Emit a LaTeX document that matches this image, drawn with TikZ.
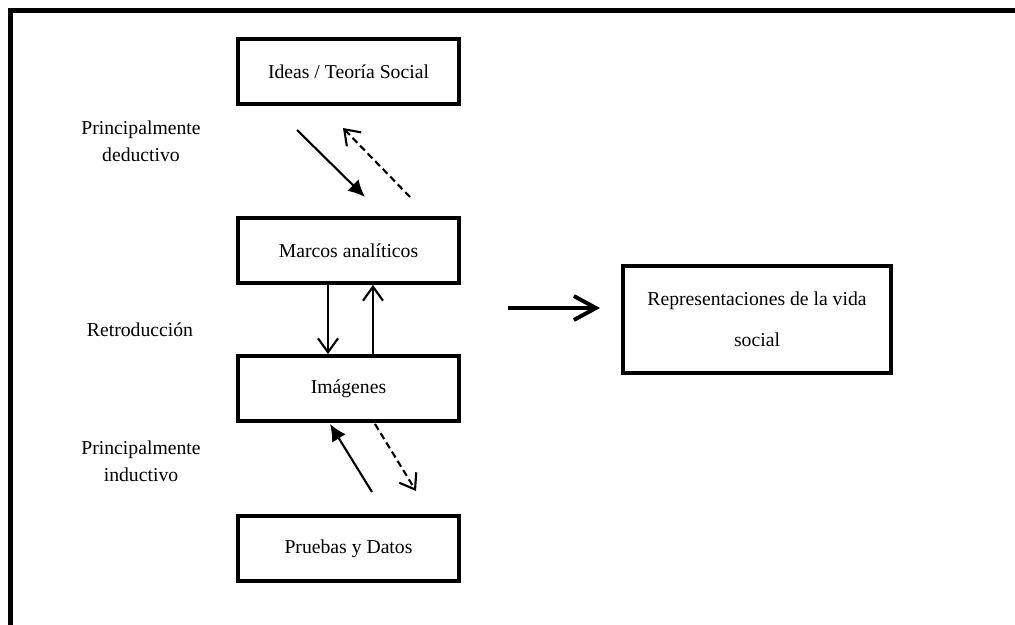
\documentclass[tikz,border=0pt]{standalone}
\usepackage{fontspec}
\setmainfont{Liberation Serif}
\usepackage{tikz}
\usetikzlibrary{arrows.meta}

\begin{document}
\begin{tikzpicture}[x=0.025cm, y=-0.025cm,
	caja/.style={draw, line width=2.8pt, minimum width=5.525cm, minimum height=1.62cm, font=\fontsize{14}{17}\selectfont},
	etiqueta/.style={align=center, font=\fontsize{14}{19}\selectfont},
	llena/.style={line width=1.5pt, -{Latex[length=0.42cm, width=0.4cm]}},
	abierta/.style={line width=1.5pt, -{Straight Barb[length=0.35cm, width=0.5cm]}},
	rayas/.style={dash pattern=on 0.17cm off 0.1cm}]
	%\draw[help lines, thick] (0,0) grid[step=50] (1015,625);
	\useasboundingbox (0,0) rectangle (1015,625);
	\draw[line width=3.5pt] (10.5,625)--(10.5,10.5)--(1015,10.5);
	\node[caja] (ideas) at (348.5,71.5) {Ideas / Teoría Social};
	\node[caja] (marcos) at (348.5,250.5) {Marcos analíticos};
	\node[caja] (imagenes) at (348.5,388.5) {Imágenes};
	\node[caja] (pruebas) at (348.5,548.5) {Pruebas y Datos};
	\node[caja, minimum width=6.7cm, minimum height=2.675cm, align=center, font=\fontsize{14}{29}\selectfont] (repr) at (757,319.5) {Representaciones de la vida\\social};
	\node[etiqueta] (deduc) at (141,141) {Principalmente\\deductivo};
	\node[etiqueta] (retro) at (140,330) {Retroducción};
	\node[etiqueta] (induc) at (141,461) {Principalmente\\inductivo};
	\coordinate (d1) at (297,130);
	\coordinate (d2) at (365,197);
	\coordinate (d3) at (410,197);
	\coordinate (d4) at (343,128);
	\coordinate (r1) at (328,0);
	\coordinate (r2) at (373,0);
	\coordinate (i1) at (372,492);
	\coordinate (i2) at (330,424);
	\coordinate (i3) at (375,424);
	\coordinate (i4) at (416,491);
	\coordinate (g1) at (508,308);
	\coordinate (g2) at (600,308);
	\draw[llena] (d1)--(d2);
	\draw[abierta, rayas] (d3)--(d4);
	\draw[abierta] (marcos.south -| r1)--(imagenes.north -| r1);
	\draw[abierta] (imagenes.north -| r2)--(marcos.south -| r2);
	\draw[llena] (i1)--(i2);
	\draw[abierta, rayas] (i3)--(i4);
	\draw[line width=2.8pt, -{Straight Barb[length=0.55cm, width=0.6cm]}] (g1)--(g2);
\end{tikzpicture}
\end{document}
